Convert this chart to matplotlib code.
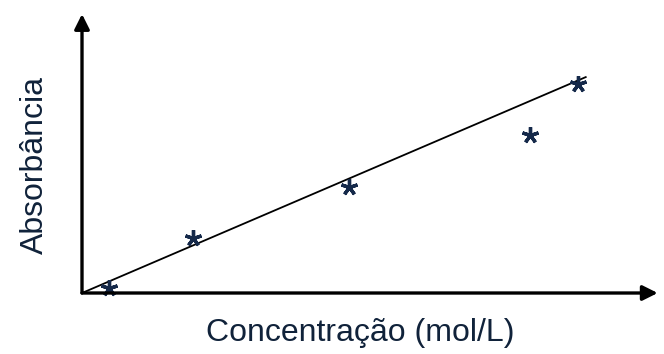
import matplotlib.pyplot as plt

# Data (arbitrary units, origin at the axes corner)
conc = [0.47, 1.93, 4.64, 7.78, 8.61]
absorb = [0.18, 1.97, 3.79, 5.66, 7.49]
fit_x = [0.0, 8.75]
fit_y = [0.0, 7.74]

plt.rcParams['font.family'] = ['Liberation Sans', 'DejaVu Sans']

fig = plt.figure(figsize=(6.64, 3.54), dpi=100)
ax = fig.add_axes([0.1235, 0.1723, 0.867, 0.788])
ax.set_xlim(0, 10)
ax.set_ylim(0, 10)

# fitted line and measured points
ax.plot(fit_x, fit_y, color='black', lw=1.3, clip_on=False)
ax.plot(conc, absorb, linestyle='none', marker=(5, 2, 0), markersize=12,
        markeredgewidth=2.4, color='#15294a', clip_on=False)

# axes with arrow heads
for s in ax.spines.values():
    s.set_visible(False)
ax.set_xticks([])
ax.set_yticks([])
arrow = dict(arrowstyle='-|>,head_length=0.9,head_width=0.45', color='black', lw=2.4,
             shrinkA=0, shrinkB=0)
ax.annotate('', xy=(1.0, 0.0), xytext=(0.0, 0.0), xycoords='axes fraction',
            textcoords='axes fraction', arrowprops=arrow, annotation_clip=False)
ax.annotate('', xy=(0.0, 1.0), xytext=(0.0, 0.0), xycoords='axes fraction',
            textcoords='axes fraction', arrowprops=arrow, annotation_clip=False)

fig.text(0.542, 0.06, 'Concentração (mol/L)', ha='center', va='center',
         fontsize=23, color='#10223a')
fig.text(0.052, 0.535, 'Absorbância', ha='center', va='center', rotation=90,
         fontsize=23, color='#10223a')

fig.savefig('out.png', dpi=100)
